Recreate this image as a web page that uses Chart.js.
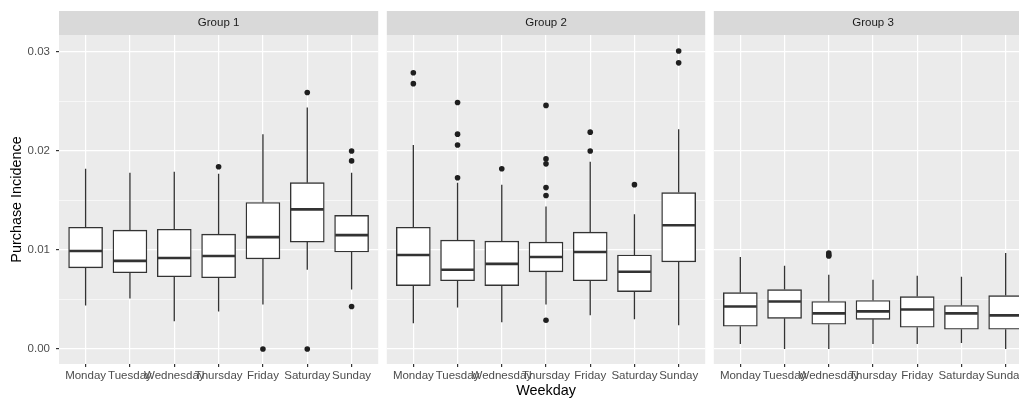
<!DOCTYPE html>
<html><head><meta charset="utf-8">
<script src="https://cdn.jsdelivr.net/npm/chart.js@4.4.0/dist/chart.umd.min.js"></script>
<style>
html,body{margin:0;padding:0;background:#fff;overflow:hidden;width:1019px;height:401px;}
#wrap{position:relative;width:1019px;height:401px;overflow:hidden;background:#fff;}
canvas{position:absolute;top:0;}
</style></head><body>
<div id="wrap">
<canvas id="c1" width="381" height="401" style="left:0px;width:381px;height:401px"></canvas>
<canvas id="c2" width="324" height="401" style="left:384px;width:324px;height:401px"></canvas>
<canvas id="c3" width="324" height="401" style="left:711px;width:324px;height:401px"></canvas>
</div>
<script>
// ---- DATA ----
const days = ['Monday','Tuesday','Wednesday','Thursday','Friday','Saturday','Sunday'];
const groups = ['Group 1','Group 2','Group 3'];
const yTicks = [0, 0.005, 0.01, 0.015, 0.02, 0.025, 0.03];

const g1Low  = [0.0044, 0.0051, 0.0028, 0.0038, 0.0045, 0.0080, 0.0060];
const g1Q1   = [0.0082, 0.0077, 0.0073, 0.0072, 0.0091, 0.0108, 0.0098];
const g1Med  = [0.0099, 0.0089, 0.0092, 0.0094, 0.0113, 0.0141, 0.0115];
const g1Q3   = [0.0123, 0.0120, 0.0121, 0.0116, 0.0148, 0.0168, 0.0135];
const g1High = [0.0182, 0.0178, 0.0179, 0.0177, 0.0217, 0.0244, 0.0178];
const g1Out  = [[3,0.0184],[4,0.0],[5,0.0259],[5,0.0],[6,0.0200],[6,0.0190],[6,0.0043]];

const g2Low  = [0.0026, 0.0042, 0.0027, 0.0045, 0.0034, 0.0030, 0.0024];
const g2Q1   = [0.0064, 0.0069, 0.0064, 0.0078, 0.0069, 0.0058, 0.0088];
const g2Med  = [0.0095, 0.0080, 0.0086, 0.0093, 0.0098, 0.0078, 0.0125];
const g2Q3   = [0.0123, 0.0110, 0.0109, 0.0108, 0.0118, 0.0095, 0.0158];
const g2High = [0.0206, 0.0168, 0.0166, 0.0144, 0.0189, 0.0136, 0.0222];
const g2Out  = [[0,0.0279],[0,0.0268],[1,0.0249],[1,0.0217],[1,0.0206],[1,0.0173],[2,0.0182],
                [3,0.0246],[3,0.0192],[3,0.0187],[3,0.0163],[3,0.0155],[3,0.0029],
                [4,0.0219],[4,0.0200],[5,0.0166],[6,0.0301],[6,0.0289]];

const g3Low  = [0.0005, 0.0000, 0.0000, 0.0005, 0.0005, 0.0006, 0.0000];
const g3Q1   = [0.0023, 0.0031, 0.0025, 0.0030, 0.0022, 0.0020, 0.0020];
const g3Med  = [0.0043, 0.0048, 0.0036, 0.0038, 0.0040, 0.0036, 0.0034];
const g3Q3   = [0.0057, 0.0060, 0.0048, 0.0049, 0.0053, 0.0044, 0.0054];
const g3High = [0.0093, 0.0084, 0.0075, 0.0070, 0.0074, 0.0073, 0.0097];
const g3Out  = [[2,0.0097],[2,0.0095],[2,0.0094]];

// ---- STYLE ----
const FONT = '"Liberation Sans", Arial, Helvetica, sans-serif';
const LINE = '#333333';
const isMajor = v => Math.abs(v*100 - Math.round(v*100)) < 1e-9;

function makePlugin(label, low, q1, med, q3, high) {
  return {
    id: 'boxExtras',
    beforeDraw(chart) {
      const {ctx, chartArea: a} = chart;
      ctx.save();
      ctx.fillStyle = '#EBEBEB';
      ctx.fillRect(a.left, a.top, a.right - a.left, a.bottom - a.top);
      ctx.fillStyle = '#D9D9D9';
      ctx.fillRect(a.left, a.top - 24, a.right - a.left, 24);
      ctx.fillStyle = '#1A1A1A';
      ctx.font = '11.5px ' + FONT;
      ctx.textAlign = 'center';
      ctx.textBaseline = 'middle';
      ctx.fillText(label, (a.left + a.right) / 2, a.top - 12);
      ctx.restore();
    },
    beforeDatasetsDraw(chart) {
      const {ctx, scales: {x, y}} = chart;
      ctx.save();
      ctx.strokeStyle = LINE;
      ctx.lineWidth = 1.3;
      ctx.beginPath();
      low.forEach((lo, i) => {
        const px = x.getPixelForValue(i);
        ctx.moveTo(px, y.getPixelForValue(lo));
        ctx.lineTo(px, y.getPixelForValue(q1[i]));
        ctx.moveTo(px, y.getPixelForValue(q3[i]));
        ctx.lineTo(px, y.getPixelForValue(high[i]));
      });
      ctx.stroke();
      ctx.restore();
    },
    afterDatasetsDraw(chart) {
      const {ctx, scales: {x, y}} = chart;
      ctx.save();
      ctx.strokeStyle = LINE;
      ctx.lineWidth = 2.6;
      ctx.beginPath();
      med.forEach((m, i) => {
        const py = y.getPixelForValue(m);
        ctx.moveTo(x.getPixelForValue(i - 0.37), py);
        ctx.lineTo(x.getPixelForValue(i + 0.37), py);
      });
      ctx.stroke();
      ctx.restore();
    }
  };
}

function makeChart(id, idx, low, q1, med, q3, high, out, padL, padR) {
  const showY = idx === 0;
  const showXTitle = idx === 1;
  return new Chart(document.getElementById(id), {
    type: 'bar',
    data: {
      datasets: [
        {
          type: 'bar',
          data: days.map((d, i) => ({x: i, y: [q1[i], q3[i]]})),
          backgroundColor: '#FFFFFF',
          borderColor: LINE,
          borderWidth: 1.4,
          borderSkipped: false,
          barThickness: 34,
          grouped: false
        },
        {
          type: 'scatter',
          data: out.map(p => ({x: p[0], y: p[1]})),
          pointRadius: 2.8,
          pointBackgroundColor: '#1F1F1F',
          pointBorderWidth: 0,
          pointHoverRadius: 2.8
        }
      ]
    },
    options: {
      responsive: false,
      animation: false,
      events: [],
      layout: {padding: {top: 35, left: padL, right: padR, bottom: 0}},
      plugins: {legend: {display: false}, tooltip: {enabled: false}, title: {display: false}},
      scales: {
        x: {
          type: 'linear', min: -0.6, max: 6.6, offset: false,
          afterBuildTicks: s => { s.ticks = days.map((d, i) => ({value: i})); },
          afterFit: s => { s.height = 37; },
          ticks: {
            autoSkip: false, maxRotation: 0, minRotation: 0, padding: 2,
            color: '#4D4D4D', font: {family: FONT, size: 11.5},
            callback: v => days[Math.round(v)]
          },
          grid: {offset: false, color: '#FFFFFF', lineWidth: 1.2, tickColor: LINE, tickLength: 3, tickWidth: 1.2},
          border: {display: false},
          title: {display: showXTitle, text: 'Weekday', color: '#000000',
                  font: {family: FONT, size: 14.4}, padding: {top: 0, bottom: 1.5}}
        },
        y: {
          type: 'linear', min: -0.00151, max: 0.03171,
          afterBuildTicks: s => { s.ticks = yTicks.map(v => ({value: v})); },
          afterFit: s => { s.width = showY ? 59 : 0; },
          ticks: {
            display: showY, padding: 6, color: '#4D4D4D', font: {family: FONT, size: 11.5},
            callback: v => isMajor(v) ? v.toFixed(2) : ''
          },
          grid: {
            color: '#FFFFFF',
            lineWidth: c => isMajor(c.tick.value) ? 1.2 : 0.6,
            tickColor: c => isMajor(c.tick.value) ? LINE : 'rgba(0,0,0,0)',
            tickLength: 3, tickWidth: 1.2, drawTicks: showY
          },
          border: {display: false},
          title: {display: showY, text: 'Purchase Incidence', color: '#000000',
                  font: {family: FONT, size: 14.4}, padding: {top: 8.5, bottom: 0}}
        }
      }
    },
    plugins: [makePlugin(groups[idx], low, q1, med, q3, high)]
  });
}

makeChart('c1', 0, g1Low, g1Q1, g1Med, g1Q3, g1High, g1Out, 0, 2);
makeChart('c2', 1, g2Low, g2Q1, g2Med, g2Q3, g2High, g2Out, 2, 2);
makeChart('c3', 2, g3Low, g3Q1, g3Med, g3Q3, g3High, g3Out, 2, 2);
</script>
</body></html>
